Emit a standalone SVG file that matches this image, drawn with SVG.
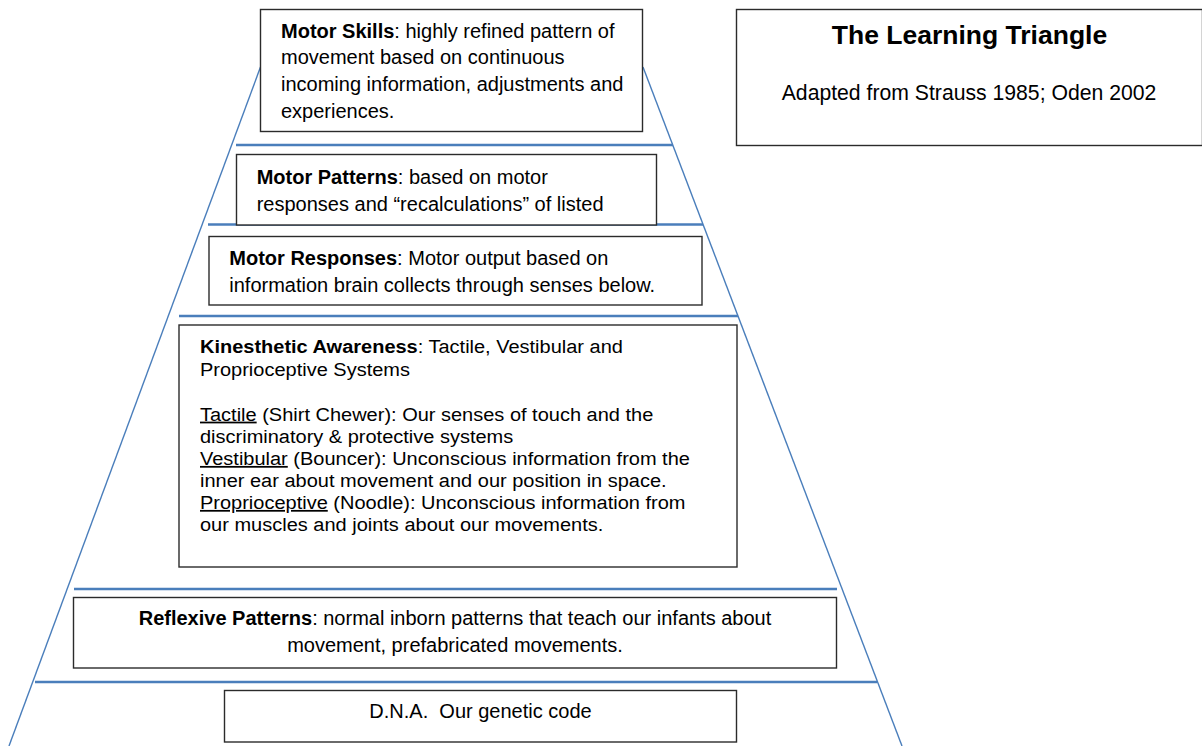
<svg xmlns="http://www.w3.org/2000/svg" width="1202" height="746" viewBox="0 0 1202 746">
<style>
.box{fill:#fff;stroke:#2b2b2b;stroke-width:1.4}
.side{stroke:#4a7ebb;stroke-width:1.4;fill:none}
.tier{stroke:#4a7ebb;stroke-width:2.6;fill:none}
text{font-family:"Liberation Sans",Arial,sans-serif;font-size:20px;fill:#000}
.b{font-weight:bold}
.u{text-decoration:underline}
.k{font-size:17.6px}
</style>
<rect width="1202" height="746" fill="#fff"/>
<g id="connectors">
<line class="side" x1="260.5" y1="67" x2="9" y2="746"/>
<line class="side" x1="643" y1="67" x2="902" y2="746"/>
<line class="tier" x1="236" y1="145" x2="673" y2="145"/>
<line class="tier" x1="208" y1="224.5" x2="703" y2="224.5"/>
<line class="tier" x1="179" y1="316" x2="738" y2="316"/>
<line class="tier" x1="74" y1="589" x2="837" y2="589"/>
<line class="tier" x1="35" y1="682" x2="877" y2="682"/>
</g>
<g id="motor-skills">
<rect class="box" x="260.5" y="9.5" width="382" height="122"/>
<text x="281" y="37.7"><tspan class="b">Motor Skills</tspan>: highly refined pattern of</text>
<text x="281" y="64.3">movement based on continuous</text>
<text x="281" y="91">incoming information, adjustments and</text>
<text x="281" y="117.7">experiences.</text>
</g>
<g id="motor-patterns">
<rect class="box" x="236.5" y="154.5" width="420" height="70.5"/>
<text x="256.7" y="184.3"><tspan class="b">Motor Patterns</tspan>: based on motor</text>
<text x="256.7" y="210.7">responses and “recalculations” of listed</text>
</g>
<g id="motor-responses">
<rect class="box" x="209" y="236.5" width="493" height="68.5"/>
<text x="229.3" y="265"><tspan class="b">Motor Responses</tspan>: Motor output based on</text>
<text x="229.3" y="291.7">information brain collects through senses below.</text>
</g>
<g id="kinesthetic">
<rect class="box" x="179" y="325" width="558" height="242"/>
<g transform="translate(200,0) scale(1.136,1)">
<text class="k" x="0" y="353.3"><tspan class="b">Kinesthetic Awareness</tspan>: Tactile, Vestibular and</text>
<text class="k" x="0" y="376">Proprioceptive Systems</text>
<text class="k" x="0" y="420.7"><tspan class="u">Tactile</tspan> (Shirt Chewer): Our senses of touch and the</text>
<text class="k" x="0" y="442.7">discriminatory &amp; protective systems</text>
<text class="k" x="0" y="465"><tspan class="u">Vestibular</tspan> (Bouncer): Unconscious information from the</text>
<text class="k" x="0" y="486.7">inner ear about movement and our position in space.</text>
<text class="k" x="0" y="509"><tspan class="u">Proprioceptive</tspan> (Noodle): Unconscious information from</text>
<text class="k" x="0" y="530.7">our muscles and joints about our movements.</text>
</g>
</g>
<g id="reflexive">
<rect class="box" x="73.5" y="597.5" width="763" height="70.5"/>
<text x="455" y="625" text-anchor="middle"><tspan class="b">Reflexive Patterns</tspan>: normal inborn patterns that teach our infants about</text>
<text x="455" y="651.7" text-anchor="middle">movement, prefabricated movements.</text>
</g>
<g id="dna">
<rect class="box" x="224.5" y="690.5" width="512" height="51.5"/>
<text x="480.5" y="718.3" text-anchor="middle">D.N.A.&#160; Our genetic code</text>
</g>
<g id="title">
<rect class="box" x="736.5" y="9.5" width="466" height="136"/>
<text class="b" x="969.5" y="44.3" text-anchor="middle" style="font-size:26.5px">The Learning Triangle</text>
<text x="969" y="100" text-anchor="middle" style="font-size:21.2px">Adapted from Strauss 1985; Oden 2002</text>
</g>
</svg>
